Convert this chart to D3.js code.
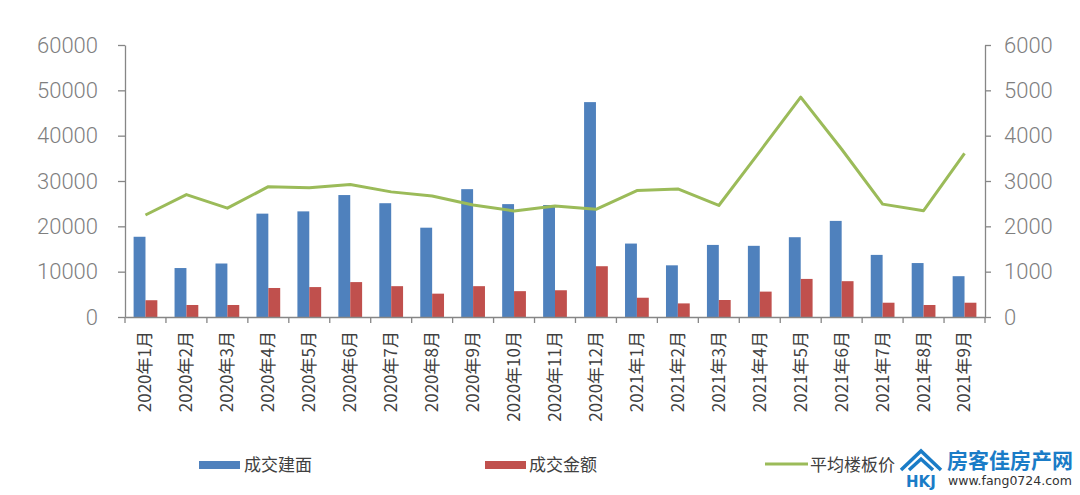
<!DOCTYPE html>
<html>
<head>
<meta charset="utf-8">
<script src="https://cdn.jsdelivr.net/npm/d3@7/dist/d3.min.js"></script>
<style>
  body { margin: 0; background: #fff; }
  svg { display: block; }
</style>
</head>
<body>
<svg width="1080" height="495"></svg>
<script>
var months = ["2020年1月", "2020年2月", "2020年3月", "2020年4月", "2020年5月", "2020年6月",
  "2020年7月", "2020年8月", "2020年9月", "2020年10月", "2020年11月", "2020年12月",
  "2021年1月", "2021年2月", "2021年3月", "2021年4月", "2021年5月", "2021年6月",
  "2021年7月", "2021年8月", "2021年9月"];
var area = [17700, 10800, 11800, 22800, 23300, 26900, 25100, 19700, 28200, 24900, 24700,
  47400, 16200, 11400, 15900, 15700, 17600, 21200, 13700, 11900, 9000];
var amount = [3700, 2650, 2650, 6400, 6600, 7700, 6800, 5150, 6800, 5700, 5900,
  11200, 4250, 3000, 3750, 5600, 8400, 7900, 3150, 2650, 3150];
var price = [2250, 2700, 2400, 2875, 2850, 2925, 2760, 2670, 2470, 2340, 2450,
  2375, 2790, 2825, 2460, 3650, 4850, 3700, 2490, 2345, 3610];
var leftTicks = [0, 10000, 20000, 30000, 40000, 50000, 60000];
var rightTicks = [0, 1000, 2000, 3000, 4000, 5000, 6000];
var seriesNames = ["成交建面", "成交金额", "平均楼板价"];

var blue = "#4f81bd", red = "#c0504d", green = "#9bbb59", axisColor = "#868686";

var svg = d3.select("svg");
var plotLeft = 125, plotRight = 985, plotTop = 45, plotBottom = 317;

var x = d3.scaleBand().domain(months).range([plotLeft, plotRight]).padding(0);
var x1 = d3.scaleBand().domain(["area", "amount"])
  .range([x.bandwidth() * 0.21, x.bandwidth() * 0.79]);
var y = d3.scaleLinear().domain([0, 60000]).range([plotBottom, plotTop]);
var y2 = d3.scaleLinear().domain([0, 6000]).range([plotBottom, plotTop]);

// bars
var data = months.map(function(m, i) {
  return { month: m, area: area[i], amount: amount[i], price: price[i] };
});
var groups = svg.append("g").selectAll("g").data(data).enter().append("g")
  .attr("transform", function(d) { return "translate(" + x(d.month) + ",0)"; });
groups.append("rect")
  .attr("x", x1("area")).attr("width", x1.bandwidth())
  .attr("y", function(d) { return y(d.area); })
  .attr("height", function(d) { return plotBottom - y(d.area); })
  .attr("fill", blue);
groups.append("rect")
  .attr("x", x1("amount")).attr("width", x1.bandwidth())
  .attr("y", function(d) { return y(d.amount); })
  .attr("height", function(d) { return plotBottom - y(d.amount); })
  .attr("fill", red);

// axes
var yAxisL = svg.append("g")
  .attr("transform", "translate(" + plotLeft + ",0)")
  .call(d3.axisLeft(y).tickValues(leftTicks).tickFormat(d3.format("d"))
    .tickSize(7).tickPadding(20).tickSizeOuter(0));
var yAxisR = svg.append("g")
  .attr("transform", "translate(" + plotRight + ",0)")
  .call(d3.axisRight(y2).tickValues(rightTicks).tickFormat(d3.format("d"))
    .tickSize(6).tickPadding(13).tickSizeOuter(0));
[yAxisL, yAxisR].forEach(function(a) {
  a.selectAll("path, line").attr("stroke", axisColor).attr("stroke-width", 1.3);
  a.selectAll("text")
    .attr("fill", "#7f7f7f")
    .style("font-family", "Roboto, 'Noto Sans', sans-serif")
    .style("font-weight", 300)
    .style("font-size", "22px");
});

var xAxis = svg.append("g")
  .attr("transform", "translate(0," + plotBottom + ")")
  .call(d3.axisBottom(x).tickSize(0).tickSizeOuter(0));
xAxis.select(".domain").attr("stroke", axisColor).attr("stroke-width", 1.3);
xAxis.selectAll("text")
  .attr("transform", "rotate(-90)")
  .attr("text-anchor", "end")
  .attr("x", -14)
  .attr("y", 0)
  .attr("dy", "0.35em")
  .attr("fill", "#404040")
  .style("font-family", "'Noto Sans CJK SC', sans-serif")
  .style("font-size", "17px");
// ticks between categories
svg.append("g").selectAll("line")
  .data(months.concat(["end"]))
  .enter().append("line")
  .attr("x1", function(d, i) { return i < months.length ? x(d) : plotRight; })
  .attr("x2", function(d, i) { return i < months.length ? x(d) : plotRight; })
  .attr("y1", plotBottom).attr("y2", plotBottom + 6)
  .attr("stroke", axisColor).attr("stroke-width", 1.3);

// price line
var line = d3.line()
  .x(function(d) { return x(d.month) + x.bandwidth() / 2; })
  .y(function(d) { return y2(d.price); });
svg.append("path")
  .datum(data)
  .attr("fill", "none")
  .attr("stroke", green)
  .attr("stroke-width", 3)
  .attr("stroke-linejoin", "round")
  .attr("d", line);

// legend
var legend = svg.append("g").style("font-family", "'Noto Sans CJK SC', sans-serif")
  .style("font-size", "17px");
legend.append("rect").attr("x", 199).attr("y", 461).attr("width", 41).attr("height", 8).attr("fill", blue);
legend.append("text").attr("x", 244).attr("y", 471).attr("fill", "#404040").text(seriesNames[0]);
legend.append("rect").attr("x", 485).attr("y", 461).attr("width", 41).attr("height", 8).attr("fill", red);
legend.append("text").attr("x", 529).attr("y", 471).attr("fill", "#404040").text(seriesNames[1]);
legend.append("line").attr("x1", 765).attr("x2", 808).attr("y1", 464).attr("y2", 464)
  .attr("stroke", green).attr("stroke-width", 3);
legend.append("text").attr("x", 810).attr("y", 471).attr("fill", "#404040").text(seriesNames[2]);

// watermark
var wm = svg.append("g");
wm.append("path")
  .attr("d", "M901,470 L921,451 L941,470 M909,470 L921,459 L933,470")
  .attr("fill", "none").attr("stroke", "#1a7cc7").attr("stroke-width", 3.5)
  .attr("stroke-linejoin", "miter");
wm.append("text").attr("x", 906).attr("y", 487).attr("fill", "#1a7cc7")
  .style("font-family", "'DejaVu Sans', sans-serif").style("font-weight", "bold")
  .style("font-size", "15px").text("HKJ");
wm.append("text").attr("x", 947).attr("y", 468).attr("fill", "#1a7cc7")
  .style("font-family", "'Noto Sans CJK SC', sans-serif").style("font-weight", "bold")
  .style("font-size", "21px").text("房客佳房产网");
wm.append("text").attr("x", 948).attr("y", 485).attr("fill", "#333")
  .style("font-family", "'DejaVu Sans', sans-serif")
  .style("font-size", "12.5px").text("www.fang0724.com");
</script>
</body>
</html>
